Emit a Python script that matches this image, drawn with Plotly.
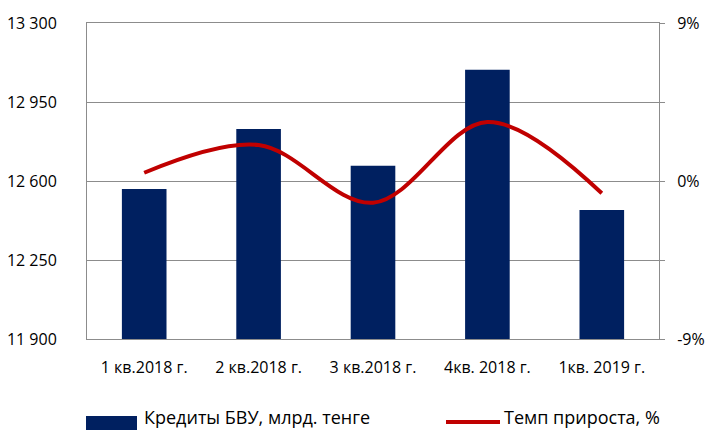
import plotly.graph_objects as go

categories = ["1 кв.2018 г.", "2 кв.2018 г.", "3 кв.2018 г.", "4кв. 2018 г.", "1кв. 2019 г."]
credits = [12565, 12830, 12668, 13093, 12472]
growth = [0.47, 2.05, -1.24, 3.36, -0.70]

left_tickvals = [11900, 12250, 12600, 12950, 13300]
left_ticktext = ["11 900", "12 250", "12 600", "12 950", "13 300"]
right_tickvals = [-9, -4.5, 0, 4.5, 9]
right_ticktext = ["-9%", "", "0%", "", "9%"]

bar_name = "Кредиты БВУ, млрд. тенге"
line_name = "Темп прироста, %"

NAVY = "#002060"
RED = "#C00000"
GRID = "#8c8c8c"
FONT = "Open Sans"

fig = go.Figure()
fig.add_trace(go.Bar(x=categories, y=credits, name=bar_name, marker_color=NAVY,
                     marker_line_width=0, showlegend=False))
fig.add_trace(go.Scatter(x=categories, y=growth, name=line_name, yaxis="y2", mode="lines",
                         line=dict(color=RED, width=4, shape="spline", smoothing=1.0),
                         showlegend=False))

W, H = 707, 430
L, R, T, B = 87, 659, 23, 339
pw, ph = R - L, B - T

def px(x):
    return (x - L) / pw

def py(y):
    return (B - y) / ph

fig.update_layout(
    width=W, height=H,
    margin=dict(l=L, r=W - R, t=T, b=H - B, pad=0, autoexpand=False),
    paper_bgcolor="white", plot_bgcolor="white",
    font=dict(family=FONT, size=16, color="#000000"),
    bargap=0.61,
    xaxis=dict(showline=True, linecolor=GRID, linewidth=1, mirror=True, ticks="",
               showgrid=False, ticklabelstandoff=14, automargin=False,
               tickfont=dict(family=FONT, size=16)),
    yaxis=dict(range=[11900, 13300], tickvals=left_tickvals, ticktext=left_ticktext,
               showgrid=True, gridcolor=GRID, gridwidth=1, showline=True, linecolor=GRID,
               linewidth=1, ticks="", zeroline=False, ticklabelstandoff=26, automargin=False,
               tickfont=dict(family=FONT, size=16)),
    yaxis2=dict(range=[-9, 9], tickvals=right_tickvals, ticktext=right_ticktext,
                overlaying="y", side="right", showgrid=False, showline=True,
                linecolor=GRID, linewidth=1, ticks="outside", ticklen=5, tickcolor=GRID,
                zeroline=False, ticklabelstandoff=9, automargin=False,
                tickfont=dict(family=FONT, size=16)),
    shapes=[
        dict(type="rect", xref="paper", yref="paper", x0=px(86), x1=px(137),
             y0=py(416), y1=py(430), fillcolor=NAVY, line=dict(width=0)),
        dict(type="line", xref="paper", yref="paper", x0=px(446), x1=px(500),
             y0=py(422), y1=py(422), line=dict(color=RED, width=4)),
    ],
    annotations=[
        dict(xref="paper", yref="paper", x=px(142), y=py(431), xanchor="left",
             yanchor="bottom", text=bar_name, showarrow=False,
             font=dict(family=FONT, size=18, color="#000000")),
        dict(xref="paper", yref="paper", x=px(502), y=py(431), xanchor="left",
             yanchor="bottom", text=line_name, showarrow=False,
             font=dict(family=FONT, size=18, color="#000000")),
    ],
)

fig.write_html("out.html", config={"displayModeBar": False},
               post_script="document.body.style.margin='0';document.body.style.overflow='hidden';")
